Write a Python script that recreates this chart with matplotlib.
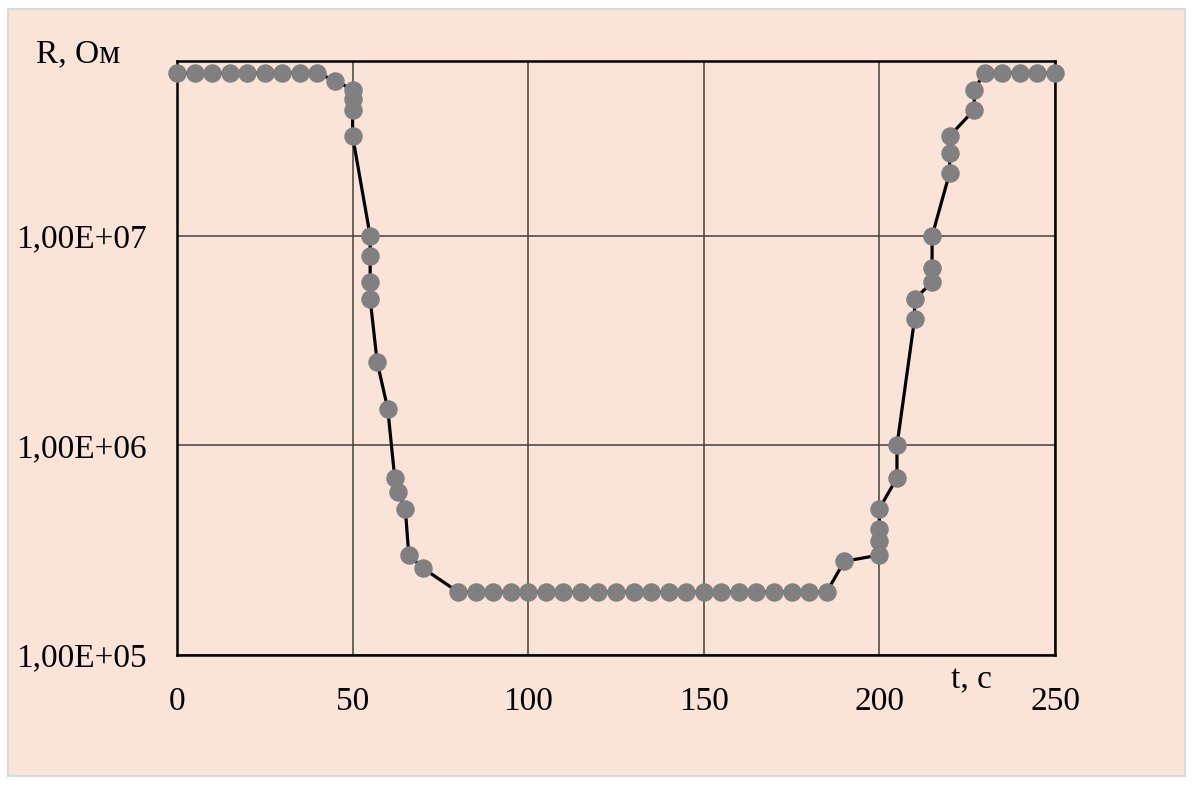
import matplotlib
matplotlib.use("Agg")
import matplotlib.pyplot as plt
from matplotlib.patches import Rectangle
from matplotlib.ticker import FixedLocator, NullLocator

# ---- data ----
t_sec = [0, 5, 10, 15, 20, 25, 30, 35, 40, 45,
         50, 50, 50, 50, 55, 55, 55, 55, 57, 60, 62, 63, 65, 66, 70,
         80, 85, 90, 95, 100, 105, 110, 115, 120, 125, 130, 135, 140,
         145, 150, 155, 160, 165, 170, 175, 180, 185,
         190, 200, 200, 200, 200, 205, 205, 210, 210, 215, 215, 215,
         220, 220, 220, 227, 227, 230, 235, 240, 245, 250]
R_ohm = [6e7, 6e7, 6e7, 6e7, 6e7, 6e7, 6e7, 6e7, 6e7, 5.5e7,
         5e7, 4.5e7, 4e7, 3e7, 1e7, 8e6, 6e6, 5e6, 2.5e6, 1.5e6, 7e5, 6e5, 5e5, 3e5, 2.6e5,
         2e5, 2e5, 2e5, 2e5, 2e5, 2e5, 2e5, 2e5, 2e5, 2e5, 2e5, 2e5, 2e5,
         2e5, 2e5, 2e5, 2e5, 2e5, 2e5, 2e5, 2e5, 2e5,
         2.8e5, 3e5, 3.5e5, 4e5, 5e5, 7e5, 1e6, 4e6, 5e6, 6e6, 7e6, 1e7,
         2e7, 2.5e7, 3e7, 4e7, 5e7, 6e7, 6e7, 6e7, 6e7, 6e7]

x_ticks = [0, 50, 100, 150, 200, 250]
y_ticks = [1e5, 1e6, 1e7]
y_tick_labels = ["1,00E+05", "1,00E+06", "1,00E+07"]
x_label = "t, c"
y_label = "R, Ом"

# ---- figure ----
W, H = 1192, 789
plt.rcParams['font.family'] = ['Liberation Serif', 'DejaVu Serif']
fig = plt.figure(figsize=(W / 100, H / 100), dpi=100, facecolor="white")

bg = "#F9E4D7"
fig.patches.append(Rectangle((8 / W, 1 - 776 / H), (1185 - 8) / W, (776 - 9) / H,
                             transform=fig.transFigure, facecolor=bg,
                             edgecolor="#D9D9D9", linewidth=1.5, zorder=-10))

left, right, top, bottom = 177, 1055, 61, 655
ax = fig.add_axes([left / W, 1 - bottom / H, (right - left) / W, (bottom - top) / H])
ax.set_zorder(1)
ax.set_facecolor("none")
ax.set_yscale("log")
ax.set_xlim(0, 250)
ax.set_ylim(1e5, 6.84e7)

ax.xaxis.set_major_locator(FixedLocator(x_ticks))
ax.yaxis.set_major_locator(FixedLocator(y_ticks))
ax.yaxis.set_minor_locator(NullLocator())
ax.set_xticklabels([str(v) for v in x_ticks])
ax.set_yticklabels(y_tick_labels)
ax.tick_params(axis="both", length=0, labelsize=24, colors="black")
ax.tick_params(axis="x", pad=22.5)
ax.tick_params(axis="y", pad=21.5)

ax.grid(True, which="major", color="#404040", linewidth=1.1)
ax.set_axisbelow(True)
for s in ax.spines.values():
    s.set_linewidth(1.8)
    s.set_color("black")

ax.plot(t_sec, R_ohm, color="black", linewidth=2.3, marker="o",
        markersize=12.3, markerfacecolor="#808080", markeredgecolor="#808080",
        clip_on=False, zorder=3)

fig.text(36 / W, 1 - 54 / H, y_label, fontsize=24, ha="left", va="center")
fig.text(971 / W, 1 - 680 / H, x_label, fontsize=24, ha="center", va="center")

fig.savefig("out.png", dpi=100, facecolor="white")
